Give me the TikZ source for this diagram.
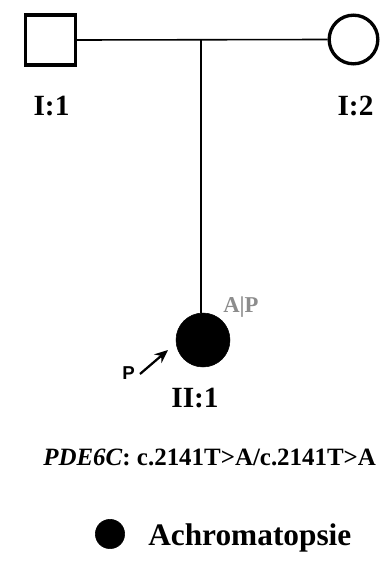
\documentclass[tikz,border=0pt]{standalone}
\usepackage{fontspec}
\setmainfont{Liberation Serif}
\newfontfamily\arialfont{Liberation Sans}
\usetikzlibrary{arrows.meta}
\definecolor{apgray}{RGB}{140,140,140}
\tikzset{
  indiv/.style={draw=black, line width=2.5pt, fill=white},
  aff/.style={draw=black, fill=black, circle, inner sep=0pt, minimum size=40.5pt},
  lbl/.style={font=\fontsize{22}{24}\selectfont\bfseries, anchor=base, inner sep=0pt},
  relline/.style={line width=1.2pt},
  descline/.style={line width=1.5pt},
}
\begin{document}
\begin{tikzpicture}[x=0.75pt, y=-0.75pt]
\useasboundingbox (0,0) rectangle (380,567);
% generation I
\node[indiv, rectangle, minimum size=37.5pt, inner sep=0pt] (m1) at (50.5,40) {};
\node[indiv, circle, minimum size=36.5pt, inner sep=0pt] (f2) at (353.5,39.5) {};
\draw[relline] (m1.east) -- (f2.west);
\coordinate (mid) at (201,40);
% generation II
\node[aff] (c1) at (203,340) {};
\draw[descline] (mid) -- (c1.north -| mid);
% labels
\node[lbl] (l11) at (51.5,115) {I:1};
\node[lbl] (l12) at (355.5,115) {I:2};
\node[lbl] (l21) at (195,407) {II:1};
\node[font=\fontsize{17}{19}\selectfont\bfseries, text=apgray, anchor=base west, inner sep=0pt] (ap) at (223,312) {A|P};
% proband arrow
\node[font=\arialfont\fontsize{14}{16}\selectfont\bfseries, anchor=base west, inner sep=0pt] (pp) at (122,379) {P};
\coordinate (as) at (140,374);
\coordinate (ae) at (168,350);
\draw[line width=1.7pt, -{Stealth[length=10pt, width=8.5pt]}] (as) -- (ae);
% genotype
\node[font=\fontsize{18.7}{21}\selectfont\bfseries, anchor=base west, inner sep=0pt] (geno) at (43,465) {\textit{PDE6C}: c.2141T>A/c.2141T>A};
% legend
\node[draw=black, fill=black, circle, inner sep=0pt, minimum size=22pt] (lg) at (110,534) {};
\node[font=\fontsize{23.5}{26}\selectfont\bfseries, anchor=base west, inner sep=0pt] (lgt) at (148,545) {Achromatopsie};
\end{tikzpicture}
\end{document}
